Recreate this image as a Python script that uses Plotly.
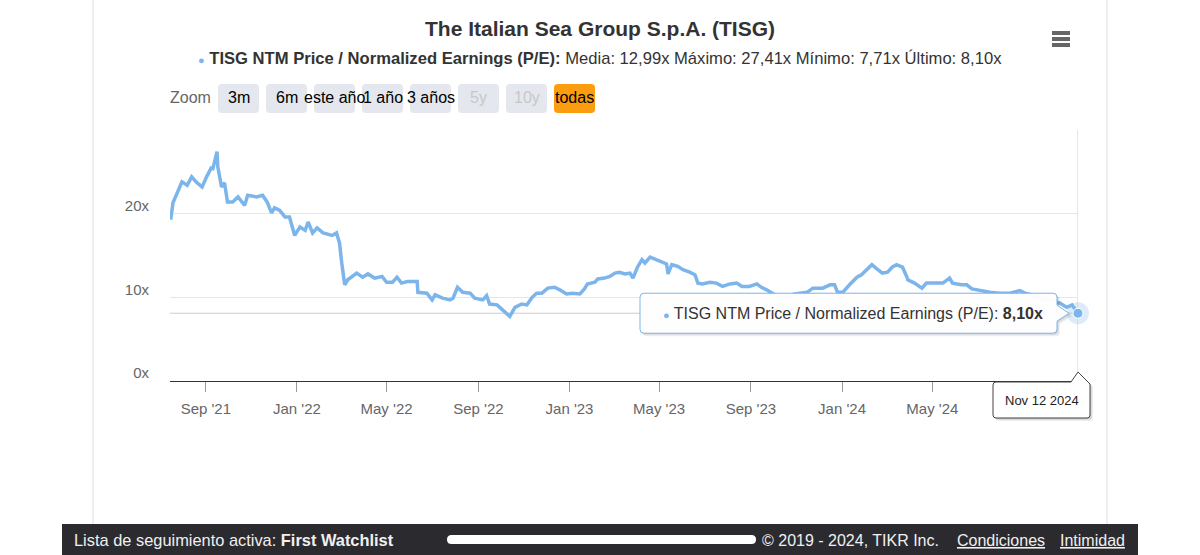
import plotly.graph_objects as go

# ---------------- data ----------------
dates = [
    "2021-07-15", "2021-07-16", "2021-07-19", "2021-07-26", "2021-07-31", "2021-08-07", "2021-08-13",
    "2021-08-20", "2021-08-27", "2021-09-02", "2021-09-09", "2021-09-10", "2021-09-16", "2021-09-17",
    "2021-09-22", "2021-09-26", "2021-09-30", "2021-10-07", "2021-10-14", "2021-10-23", "2021-10-27",
    "2021-11-08", "2021-11-16", "2021-11-22", "2021-11-28", "2021-12-02", "2021-12-09", "2021-12-16",
    "2021-12-22", "2021-12-29", "2022-01-05", "2022-01-12", "2022-01-16", "2022-01-22", "2022-01-28",
    "2022-02-05", "2022-02-17", "2022-02-23", "2022-02-27", "2022-03-02", "2022-03-06", "2022-03-10",
    "2022-03-22", "2022-03-30", "2022-04-06", "2022-04-15", "2022-04-25", "2022-05-01", "2022-05-09",
    "2022-05-15", "2022-05-21", "2022-05-29", "2022-06-11", "2022-06-12", "2022-06-24", "2022-07-01",
    "2022-07-05", "2022-07-15", "2022-07-25", "2022-07-29", "2022-08-04", "2022-08-11", "2022-08-21",
    "2022-08-27", "2022-09-03", "2022-09-07", "2022-09-12", "2022-09-16", "2022-09-26", "2022-10-04",
    "2022-10-13", "2022-10-20", "2022-10-29", "2022-11-05", "2022-11-12", "2022-11-18", "2022-11-25",
    "2022-12-03", "2022-12-12", "2022-12-19", "2022-12-28", "2023-01-05", "2023-01-15", "2023-01-21",
    "2023-01-25", "2023-02-04", "2023-02-08", "2023-02-17", "2023-02-24", "2023-03-03", "2023-03-09",
    "2023-03-16", "2023-03-23", "2023-03-27", "2023-04-02", "2023-04-08", "2023-04-12", "2023-04-19",
    "2023-04-25", "2023-05-05", "2023-05-11", "2023-05-13", "2023-05-18", "2023-05-26", "2023-06-02",
    "2023-06-11", "2023-06-18", "2023-06-22", "2023-06-28", "2023-07-08", "2023-07-17", "2023-07-25",
    "2023-08-04", "2023-08-13", "2023-08-20", "2023-08-30", "2023-09-09", "2023-09-15", "2023-09-22",
    "2023-10-03", "2023-10-16", "2023-10-30", "2023-11-15", "2023-11-23", "2023-12-06", "2023-12-16",
    "2023-12-22", "2023-12-26", "2024-01-02", "2024-01-11", "2024-01-21", "2024-01-27", "2024-02-03",
    "2024-02-10", "2024-02-18", "2024-02-24", "2024-03-02", "2024-03-08", "2024-03-14", "2024-03-22",
    "2024-03-28", "2024-03-29", "2024-04-07", "2024-04-17", "2024-04-23", "2024-05-01", "2024-05-11",
    "2024-05-15", "2024-05-24", "2024-05-28", "2024-06-09", "2024-06-16", "2024-06-23", "2024-07-03",
    "2024-07-17", "2024-07-30", "2024-08-13", "2024-08-26", "2024-09-02", "2024-09-15", "2024-09-28",
    "2024-10-19", "2024-10-28", "2024-11-04", "2024-11-12",
]
pe = [
    20.1, 19.3, 21.3, 22.8, 23.8, 23.4, 24.4,
    23.7, 23.2, 24.4, 25.6, 25.2, 27.41, 25.6,
    23.2, 23.7, 21.4, 21.4, 22.0, 21.0, 22.2,
    22.0, 22.2, 21.4, 20.1, 20.7, 20.4, 19.6,
    19.6, 17.4, 18.4, 18.0, 19.0, 17.7, 18.3,
    17.7, 17.4, 17.7, 16.5, 14.1, 11.5, 12.1,
    12.9, 12.4, 12.8, 12.3, 12.5, 11.8, 11.8,
    12.4, 11.7, 11.9, 11.9, 10.6, 10.5, 9.7,
    10.3, 9.9, 9.7, 9.9, 11.2, 10.6, 10.5,
    9.9, 9.8, 9.7, 10.2, 9.2, 9.1, 8.5,
    7.71, 8.8, 9.2, 9.1, 10.0, 10.5, 10.5,
    11.1, 11.2, 10.9, 10.4, 10.5, 10.4, 11.0,
    11.6, 11.8, 12.2, 12.3, 12.5, 12.9, 13.0,
    12.8, 12.9, 12.3, 13.6, 14.5, 14.1, 14.8,
    14.6, 14.2, 14.0, 12.8, 13.9, 13.7, 13.3,
    13.0, 12.7, 11.7, 11.6, 11.8, 11.7, 11.3,
    11.6, 11.7, 11.3, 11.3, 11.6, 11.2, 10.9,
    10.3, 10.1, 10.4, 10.6, 11.1, 11.1, 11.5,
    11.5, 10.6, 10.6, 11.5, 12.4, 12.7, 13.3,
    13.9, 13.3, 12.9, 13.0, 13.6, 13.9, 13.6,
    12.4, 12.1, 11.7, 11.1, 11.7, 11.7, 11.8,
    11.7, 12.3, 11.7, 11.5, 11.5, 11.0, 10.8,
    10.6, 10.5, 10.5, 10.8, 10.5, 10.2, 9.8,
    9.3, 8.8, 9.1, 8.10,
]

series_name = "TISG NTM Price / Normalized Earnings (P/E)"
stat_names = ["Media", "Máximo", "Mínimo", "Último"]
stat_values = ["12,99x", "27,41x", "7,71x", "8,10x"]
last_label = "8,10x"
last_date_label = "Nov 12 2024"

ytick_vals = [0, 10, 20, 30]
ytick_text = ["0x", "10x", "20x", ""]
xtick_vals = ["2021-09-01", "2022-01-01", "2022-05-01", "2022-09-01", "2023-01-01",
              "2023-05-01", "2023-09-01", "2024-01-01", "2024-05-01", "2024-09-01"]
# the Sep '24 label is hidden behind the date tooltip in the original
xtick_text = ["Sep '21", "Jan '22", "May '22", "Sep '22", "Jan '23",
              "May '23", "Sep '23", "Jan '24", "May '24", ""]

zoom_buttons = ["3m", "6m", "este año", "1 año", "3 años", "5y", "10y", "todas"]
zoom_enabled = [True, True, True, True, True, False, False, True]
zoom_selected = "todas"

# ---------------- layout helpers ----------------
W, H = 1200, 555
L, R, T, B = 170, 1078, 130, 381
FONT = "Liberation Sans, Arial, sans-serif"
LINE_COLOR = "#7cb5ec"


def px(x):
    return (x - L) / (R - L)


def py(y):
    return (B - y) / (B - T)


def rrect(x0, y0, x1, y1, r):
    # rounded rectangle in paper coords from pixel coords (y downward)
    return (f"M {px(x0 + r)} {py(y0)} L {px(x1 - r)} {py(y0)} Q {px(x1)} {py(y0)} {px(x1)} {py(y0 + r)} "
            f"L {px(x1)} {py(y1 - r)} Q {px(x1)} {py(y1)} {px(x1 - r)} {py(y1)} "
            f"L {px(x0 + r)} {py(y1)} Q {px(x0)} {py(y1)} {px(x0)} {py(y1 - r)} "
            f"L {px(x0)} {py(y0 + r)} Q {px(x0)} {py(y0)} {px(x0 + r)} {py(y0)} Z")


def tip_path(dx=0, dy=0):
    # main tooltip callout (pixel offsets from last point, y up)
    l, r_, t, b, rad = -438 + dx, -21 + dx, 20 + dy, -20 + dy, 4
    return (f"M {l + rad},{t} L {r_ - rad},{t} Q {r_},{t} {r_},{t - rad} L {r_},{8 + dy} "
            f"L {-9 + dx},{0 + dy} L {r_},{-8 + dy} L {r_},{b + rad} Q {r_},{b} {r_ - rad},{b} "
            f"L {l + rad},{b} Q {l},{b} {l},{b + rad} L {l},{t - rad} Q {l},{t} {l + rad},{t} Z")


def date_path(dx=0, dy=0):
    l, r_, t, b, rad = -85 + dx, 12 + dx, -1 + dy, -37 + dy, 3
    return (f"M {l + rad},{t} L {-7 + dx},{t} L {0 + dx},{9 + dy} L {r_ - 2},{t} "
            f"L {r_},{t - 2} L {r_},{b + rad} Q {r_},{b} {r_ - rad},{b} L {l + rad},{b} Q {l},{b} {l},{b + rad} "
            f"L {l},{t - rad} Q {l},{t} {l + rad},{t} Z")


last_x, last_y = dates[-1], pe[-1]

fig = go.Figure()
fig.add_trace(go.Scatter(x=dates, y=pe, mode="lines", line=dict(color=LINE_COLOR, width=3.5),
                         hoverinfo="skip", showlegend=False))
fig.add_trace(go.Scatter(x=[last_x], y=[last_y], mode="markers", cliponaxis=False,
                         marker=dict(size=22, color="rgba(124,181,236,0.25)"),
                         hoverinfo="skip", showlegend=False))
fig.add_trace(go.Scatter(x=[last_x], y=[last_y], mode="markers", cliponaxis=False,
                         marker=dict(size=10, color=LINE_COLOR, line=dict(color="white", width=1)),
                         hoverinfo="skip", showlegend=False))

shapes = []
annotations = []

# crosshairs
shapes.append(dict(type="line", xref="x", yref="y", x0=dates[0], x1=last_x, y0=last_y, y1=last_y,
                   line=dict(color="#cccccc", width=1), layer="below"))
shapes.append(dict(type="line", xref="x", yref="y", x0=last_x, x1=last_x, y0=0, y1=30,
                   line=dict(color="#cccccc", width=1), layer="below"))

# page frame lines
for xx in (93, 1107):
    shapes.append(dict(type="line", xref="paper", yref="paper", x0=px(xx), x1=px(xx),
                       y0=py(0), y1=py(524), line=dict(color="#dddddd", width=1)))

# main tooltip (shadow + box)
for s in (3, 2, 1):
    shapes.append(dict(type="path", xref="x", yref="y", xsizemode="pixel", ysizemode="pixel",
                       xanchor=last_x, yanchor=last_y, path=tip_path(s, -s),
                       fillcolor="rgba(0,0,0,0.06)", line=dict(width=0)))
shapes.append(dict(type="path", xref="x", yref="y", xsizemode="pixel", ysizemode="pixel",
                   xanchor=last_x, yanchor=last_y, path=tip_path(),
                   fillcolor="rgba(255,255,255,0.97)", line=dict(color=LINE_COLOR, width=1)))
annotations.append(dict(x=last_x, y=last_y, xref="x", yref="y", xanchor="right", yanchor="middle",
                        xshift=-33, showarrow=False,
                        text=f"<span style='color:{LINE_COLOR};font-size:11px'>●</span> {series_name}: <b>{last_label}</b>",
                        font=dict(family=FONT, size=16, color="#333333")))

# date tooltip (anchored at the right end of the x axis: paper x=1, y=0)
for s in (3, 2, 1):
    shapes.append(dict(type="path", xref="paper", yref="paper", xsizemode="pixel", ysizemode="pixel",
                       xanchor=1, yanchor=0, path=date_path(s, -s),
                       fillcolor="rgba(0,0,0,0.07)", line=dict(width=0)))
shapes.append(dict(type="path", xref="paper", yref="paper", xsizemode="pixel", ysizemode="pixel",
                   xanchor=1, yanchor=0, path=date_path(),
                   fillcolor="white", line=dict(color="#444444", width=1)))
annotations.append(dict(x=1, y=0, xref="paper", yref="paper", xanchor="center", yanchor="middle",
                        xshift=-36, yshift=-19, showarrow=False, text=last_date_label,
                        font=dict(family=FONT, size=13, color="#222222")))

# title + legend line
annotations.append(dict(x=px(600), y=py(29), xref="paper", yref="paper", showarrow=False,
                        xanchor="center", yanchor="middle",
                        text="<b>The Italian Sea Group S.p.A. (TISG)</b>",
                        font=dict(family=FONT, size=21, color="#333333")))
stats_txt = " ".join(f"{n}: {v}" for n, v in zip(stat_names, stat_values))
annotations.append(dict(x=px(600), y=py(58), xref="paper", yref="paper", showarrow=False,
                        xanchor="center", yanchor="middle",
                        text=f"<span style='color:{LINE_COLOR};font-size:11px'>●</span> <b>{series_name}:</b> {stats_txt}",
                        font=dict(family=FONT, size=16.6, color="#333333")))

# zoom row
annotations.append(dict(x=px(168), y=py(98), xref="paper", yref="paper", showarrow=False,
                        xanchor="left", yanchor="middle", text="Zoom",
                        font=dict(family=FONT, size=16, color="#666666")))
for i, (lab, en) in enumerate(zip(zoom_buttons, zoom_enabled)):
    x0 = 218 + 48 * i
    sel = lab == zoom_selected
    shapes.append(dict(type="path", xref="paper", yref="paper", path=rrect(x0, 84, x0 + 41, 113, 4),
                       fillcolor="#fb9d0e" if sel else "#e4e7ed", line=dict(width=0)))
for i, (lab, en) in enumerate(zip(zoom_buttons, zoom_enabled)):
    x0 = 218 + 48 * i
    annotations.append(dict(x=px(x0 + 20.5), y=py(98), xref="paper", yref="paper", showarrow=False,
                            xanchor="center", yanchor="middle", text=lab,
                            font=dict(family=FONT, size=16, color="#000000" if en else "#c8c8c8")))

# hamburger menu
for yy in (33, 39, 45):
    shapes.append(dict(type="line", xref="paper", yref="paper", x0=px(1052), x1=px(1070),
                       y0=py(yy), y1=py(yy), line=dict(color="#666666", width=4)))

# bottom bar
shapes.append(dict(type="rect", xref="paper", yref="paper", x0=px(62), x1=px(1138), y0=py(524), y1=py(556),
                   fillcolor="#2b2b2f", line=dict(width=0)))
shapes.append(dict(type="path", xref="paper", yref="paper", path=rrect(447, 535, 756, 544, 4.5),
                   fillcolor="white", line=dict(width=0)))
annotations.append(dict(x=px(72), y=py(540), xref="paper", yref="paper", showarrow=False,
                        xanchor="left", yanchor="middle",
                        text="Lista de seguimiento activa: <b>First Watchlist</b>",
                        font=dict(family=FONT, size=16.4, color="#f0f0f0")))
annotations.append(dict(x=px(760), y=py(540), xref="paper", yref="paper", showarrow=False,
                        xanchor="left", yanchor="middle", text="© 2019 - 2024, TIKR Inc.",
                        font=dict(family=FONT, size=16, color="#f0f0f0")))
annotations.append(dict(x=px(955), y=py(540), xref="paper", yref="paper", showarrow=False,
                        xanchor="left", yanchor="middle", text="<u>Condiciones</u>",
                        font=dict(family=FONT, size=16, color="#f0f0f0")))
annotations.append(dict(x=px(1058), y=py(540), xref="paper", yref="paper", showarrow=False,
                        xanchor="left", yanchor="middle", text="<u>Intimidad</u>",
                        font=dict(family=FONT, size=16, color="#f0f0f0")))

fig.update_layout(
    width=W, height=H,
    margin=dict(l=L, r=W - R, t=T, b=H - B, pad=0),
    paper_bgcolor="white", plot_bgcolor="white",
    showlegend=False,
    shapes=shapes, annotations=annotations,
    font=dict(family=FONT),
    xaxis=dict(type="date", range=[dates[0], last_x], tickmode="array", tickvals=xtick_vals,
               ticktext=xtick_text, showgrid=False, zeroline=False, showline=True,
               linecolor="#333333", linewidth=1, ticks="outside", ticklen=10, tickcolor="#999999",
               ticklabelstandoff=4,
               tickfont=dict(family=FONT, size=15, color="#666666"), fixedrange=True),
    yaxis=dict(range=[0, 30], tickmode="array", tickvals=ytick_vals, ticktext=ytick_text,
               showgrid=True, gridcolor="#e6e6e6", gridwidth=1, zeroline=False, showline=False,
               ticks="", ticklabelstandoff=20, ticklabelshift=-8,
               tickfont=dict(family=FONT, size=15, color="#666666"), fixedrange=True),
)

fig.write_html("out.html", config={"displayModeBar": False})
